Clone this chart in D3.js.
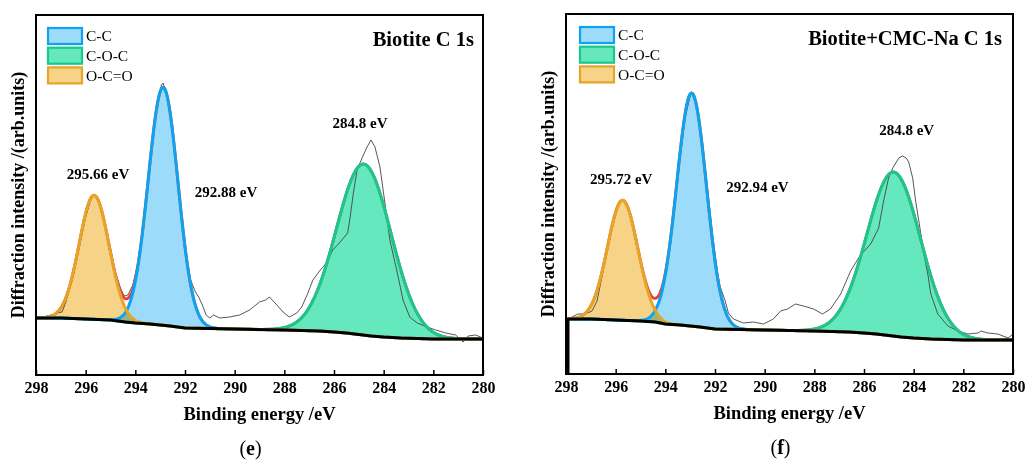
<!DOCTYPE html>
<html>
<head>
<meta charset="utf-8">
<script src="https://cdn.jsdelivr.net/npm/d3@7"></script>
<style>
body { margin: 0; background: #fff; }
svg text { font-family: "Liberation Serif", "Times New Roman", serif; }
</style>
</head>
<body>
<svg id="chart" width="1025" height="464"></svg>
<script>
// axis ticks and peak names
var xTicks = [298, 296, 294, 292, 290, 288, 286, 284, 282, 280];
var peakNames = ["C-C", "C-O-C", "O-C=O"];

// ---- panel (e) Biotite ----
var eTitle = "Biotite C 1s";
var eCenters = [292.88, 284.8, 295.66];
var eHeights = [238, 171, 124];
var eSigmas = [0.6, 1.1, 0.6];
var eBaseE = [298, 297, 296, 295, 294.4, 294, 293.4, 292.6, 292, 290, 288, 286.6, 286, 285.5, 284.5, 284, 283.3, 282, 280];
var eBaseI = [57, 57, 56, 55, 53, 52, 51, 49, 47, 46, 45, 44, 43, 42, 39, 38, 37, 36, 36];
var eRawE = [298.0, 297.7, 297.4, 297.15, 296.95, 296.8, 296.5, 296.2, 296.0, 295.8, 295.65, 295.5, 295.4, 295.2, 295.0,
  294.8, 294.6, 294.45, 294.3, 294.1, 293.9, 293.7, 293.5, 293.3, 293.1, 292.95, 292.88, 292.75, 292.6, 292.4,
  292.2, 292.0, 291.8, 291.6, 291.45, 291.3, 291.15, 291.0, 290.85, 290.6, 290.2, 289.8, 289.4, 289.0, 288.75,
  288.6, 288.45, 288.3, 288.05, 287.8, 287.5, 287.3, 287.05, 286.85, 286.55, 286.3, 286.05, 285.75, 285.45, 285.35,
  285.22, 285.07, 284.87, 284.67, 284.51, 284.35, 284.15, 283.95, 283.75, 283.45, 283.22, 282.95, 282.65, 282.25,
  281.9, 281.5, 281.1, 280.8, 280.6, 280.3, 280.0];
var eRawI = [57, 58, 60, 62, 63, 73, 99, 135, 158, 175, 181, 177, 170, 150, 126,
  103, 87, 79, 80, 90, 112, 148, 194, 240, 274, 290, 292, 282, 262, 218,
  170, 128, 97, 84, 78, 70, 60, 57, 60, 57, 58, 60, 65, 73, 75,
  78, 74, 70, 63, 58, 62, 68, 82, 95, 105, 112, 125, 133, 142, 158,
  182, 205, 217, 228, 235, 228, 208, 172, 135, 102, 75, 58, 52, 48,
  45, 42, 40, 33, 39, 40, 37];

// ---- panel (f) Biotite+CMC-Na ----
var fTitle = "Biotite+CMC-Na C 1s";
var fCenters = [292.94, 284.8, 295.72];
var fHeights = [233, 164, 120];
var fSigmas = [0.6, 1.08, 0.61];
var fBaseE = [297.92, 297, 296, 295, 294.4, 294, 293.4, 292.6, 292, 290, 288, 286.6, 286, 285.5, 284.5, 284, 283.3, 282, 280];
var fBaseI = [55, 55, 54, 53, 52, 50, 49, 47, 45, 44, 43, 42, 41, 40, 37, 36, 35, 34, 34];
var fRawE = [297.92, 297.52, 297.23, 296.95, 296.75, 296.5, 296.3, 296.1, 295.9, 295.75, 295.65, 295.5, 295.3, 295.1,
  294.9, 294.7, 294.5, 294.35, 294.2, 294.0, 293.8, 293.6, 293.4, 293.2, 293.0, 292.92, 292.75, 292.5, 292.3,
  292.1, 291.9, 291.8, 291.6, 291.46, 291.26, 290.86, 290.45, 290.05, 289.65, 289.36, 289.08, 288.76, 288.44,
  288.03, 287.67, 287.35, 286.94, 286.54, 286.22, 286.06, 285.73, 285.41, 285.21, 285.01, 284.84, 284.6, 284.45,
  284.3, 284.2, 284.04, 283.92, 283.71, 283.59, 283.43, 283.31, 283.03, 282.62, 282.22, 281.82, 281.41, 281.29,
  281.01, 280.61, 280.2, 280.0];
var fRawI = [55, 60, 60, 63, 73, 104, 128, 151, 168, 175, 172, 165, 148, 124,
  101, 83, 76, 77, 81, 99, 129, 172, 217, 257, 278, 281, 268, 230, 184,
  139, 102, 88, 74, 61, 55, 51, 52, 50, 55, 63, 65, 70, 68,
  65, 60, 65, 80, 103, 116, 121, 130, 146, 173, 196, 206, 216, 218,
  216, 212, 196, 173, 140, 120, 100, 80, 60, 48, 43, 40, 41, 43,
  41, 40, 36, 40];

var strokeCols = ["#0ea3f0", "#17c98b", "#e6a527"];
var fillCols = ["#9ddbfa", "#66e8be", "#f6d386"];
var envCol = "#ee3b3b";

var panels = [
  {x0: 36, y0: 15, tag: "e", title: eTitle, centers: eCenters, heights: eHeights, sigmas: eSigmas,
   baseE: eBaseE, baseI: eBaseI, rawE: eRawE, rawI: eRawI, drop: false,
   labels: [[290.35, 183], [284.95, 252], [295.5, 201]]},
  {x0: 566, y0: 14, tag: "f", title: fTitle, centers: fCenters, heights: fHeights, sigmas: fSigmas,
   baseE: fBaseE, baseI: fBaseI, rawE: fRawE, rawI: fRawI, drop: true,
   labels: [[290.29, 187], [284.28, 244], [295.78, 195]]}
];

var W = 447, H = 360;
var svg = d3.select("#chart");

panels.forEach(function (p, pi) {
  var g = svg.append("g").attr("transform", "translate(" + p.x0 + "," + p.y0 + ")");
  var x = d3.scaleLinear().domain([298, 280]).range([0, W]);
  var y = d3.scaleLinear().domain([0, 360]).range([H, 0]);
  var base = d3.scaleLinear().domain(p.baseE).range(p.baseI).clamp(true);

  g.append("clipPath").attr("id", "clip" + pi)
    .append("rect").attr("width", W).attr("height", H);
  var plot = g.append("g").attr("clip-path", "url(#clip" + pi + ")");

  var energies = d3.range(p.baseE[0], 279.99, -0.02);
  function comp(k, E) {
    var d = E - p.centers[k];
    return p.heights[k] * Math.exp(-d * d / (2 * p.sigmas[k] * p.sigmas[k]));
  }

  // filled components (green, blue, then orange on top)
  [1, 0, 2].forEach(function (k) {
    var area = d3.area()
      .x(function (E) { return x(E); })
      .y0(function (E) { return y(base(E)); })
      .y1(function (E) { return y(base(E) + comp(k, E)); });
    plot.append("path").datum(energies)
      .attr("d", area)
      .attr("fill", fillCols[k])
      .style("mix-blend-mode", "multiply");
  });

  // raw spectrum
  var raw = d3.line()
    .x(function (d) { return x(d[0]); })
    .y(function (d) { return y(d[1]); });
  plot.append("path").datum(d3.zip(p.rawE, p.rawI)).attr("d", raw)
    .attr("fill", "none").attr("stroke", "#444").attr("stroke-width", 0.9);

  // envelope
  var env = d3.line()
    .x(function (E) { return x(E); })
    .y(function (E) { return y(base(E) + comp(0, E) + comp(1, E) + comp(2, E)); });
  plot.append("path").datum(energies).attr("d", env)
    .attr("fill", "none").attr("stroke", envCol).attr("stroke-width", 2.8);

  [1, 0, 2].forEach(function (k) {
    var line = d3.line()
      .x(function (E) { return x(E); })
      .y(function (E) { return y(base(E) + comp(k, E)); });
    plot.append("path").datum(energies).attr("d", line)
      .attr("fill", "none").attr("stroke", strokeCols[k]).attr("stroke-width", 3);
  });

  // background
  var bpts = d3.zip(p.baseE, p.baseI);
  if (p.drop) bpts.unshift([p.baseE[0], 0]);
  plot.append("path").datum(bpts).attr("d", raw)
    .attr("fill", "none").attr("stroke", "#000").attr("stroke-width", 3);

  // frame
  g.append("rect").attr("width", W).attr("height", H)
    .attr("fill", "none").attr("stroke", "#000").attr("stroke-width", 2);

  // x axis
  var ax = g.append("g").attr("transform", "translate(0," + H + ")")
    .call(d3.axisBottom(x).tickValues(xTicks).tickSize(-5).tickPadding(7).tickFormat(d3.format("d")));
  ax.select(".domain").remove();
  ax.selectAll("line").attr("stroke-width", 1.5);
  ax.selectAll("text").style("font-size", "16px").style("font-weight", "bold").attr("fill", "#000");

  g.append("text").attr("x", W / 2).attr("y", H + 45)
    .attr("text-anchor", "middle").style("font-size", "18.5px").style("font-weight", "bold")
    .text("Binding energy /eV");

  g.append("text")
    .attr("transform", "translate(-12," + (H / 2) + ") rotate(-90)")
    .attr("text-anchor", "middle").style("font-size", "18px").style("font-weight", "bold")
    .text("Diffraction intensity /(arb.units)");

  var tg = g.append("text").attr("x", W / 2 - 9).attr("y", H + 80)
    .attr("text-anchor", "middle").style("font-size", "20px");
  tg.append("tspan").text("(");
  tg.append("tspan").style("font-weight", "bold").text(p.tag);
  tg.append("tspan").text(")");

  // title
  g.append("text").attr("x", W - 9 - pi * 2).attr("y", 31)
    .attr("text-anchor", "end").style("font-size", "20.5px").style("font-weight", "bold")
    .text(p.title);

  // peak labels
  p.labels.forEach(function (l, k) {
    g.append("text").attr("x", x(l[0])).attr("y", y(l[1]))
      .attr("dy", "0.35em").attr("text-anchor", "middle")
      .style("font-size", "15px").style("font-weight", "bold")
      .text(p.centers[k] + " eV");
  });

  // legend
  var lg = g.append("g").attr("transform", "translate(" + (12 + pi * 2) + ",13)");
  peakNames.forEach(function (n, k) {
    lg.append("rect").attr("x", 0).attr("y", k * 19.7).attr("width", 34).attr("height", 16)
      .attr("fill", fillCols[k]).attr("stroke", strokeCols[k]).attr("stroke-width", 2.2);
    lg.append("text").attr("x", 38).attr("y", k * 19.7 + 8).attr("dy", "0.35em")
      .style("font-size", "15.5px").text(n);
  });
});
</script>
</body>
</html>
